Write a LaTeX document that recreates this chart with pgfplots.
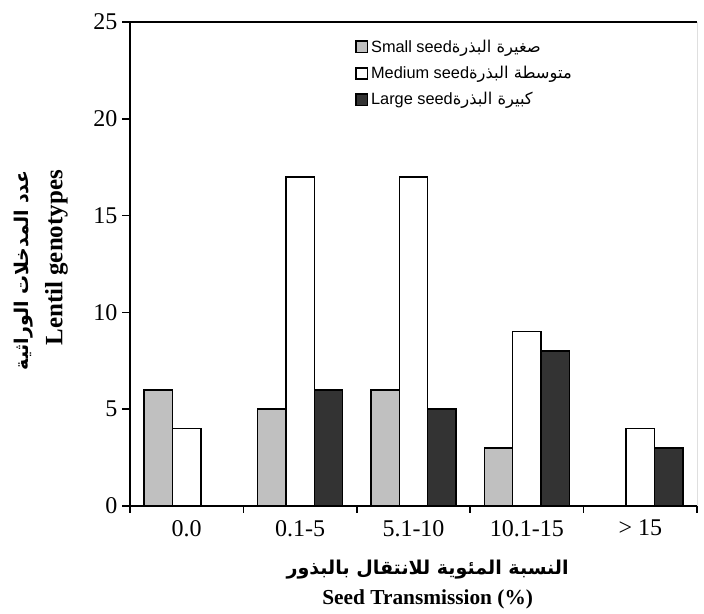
\documentclass[border=0pt]{standalone}
\usepackage{pgfplots}
\pgfplotsset{compat=1.18}
\usepackage{fontspec}
\setmainfont{Liberation Serif}
\newfontfamily\legfont{Liberation Sans}
\newfontfamily\arabicfont[Script=Arabic]{DejaVu Sans}
\TeXXeTstate=1
\definecolor{smallc}{HTML}{C0C0C0}
\definecolor{largec}{HTML}{333333}
\pgfplotstableread{
x small medium large
0 6 4 0
1 5 17 6
2 6 17 5
3 3 9 8
4 0 4 3
}\data
\pgfplotsset{boxlegend/.style={legend image code/.code={\draw[##1, line width=1.3pt] (0pt,-4.25pt) rectangle (8.5pt,4.25pt);}}}
\begin{document}
\begin{tikzpicture}[x=1pt,y=1pt]
\useasboundingbox (0,0) rectangle (528,460.5);
\begin{axis}[
  at={(97.5pt,81pt)}, anchor=south west,
  scale only axis, width=425.25pt, height=363pt,
  xmin=-0.5, xmax=4.5, ymin=0, ymax=25,
  ytick={0,5,10,15,20,25},
  xtick={0,1,2,3,4},
  xticklabels={0.0, 0.1-5, 5.1-10, 10.1-15, {> 15}},
  minor xtick={-0.5,0.5,1.5,2.5,3.5,4.5},
  tick align=outside, tick pos=left,
  major tick length=6pt, minor tick length=5pt,
  every tick/.style={black, line width=1.1pt},
  every minor tick/.style={black, line width=1.1pt},
  major x tick style={draw=none},
  /pgf/number format/assume math mode=true,
  tick label style={font=\fontsize{18}{20}\selectfont},
  xticklabel style={yshift=-1pt},
  axis x line*=bottom, axis y line*=left,
  axis line style={line width=1.3pt},
  ybar, bar width=0.25,
  xlabel={{\arabicfont\bfseries\fontsize{14.3}{17}\selectfont\beginR النسبة المئوية للانتقال بالبذور\endR}\\[7pt]{\bfseries\fontsize{16}{18}\selectfont Seed Transmission (\%)}},
  xlabel style={align=center, at={(axis description cs:0.525,-0.163)}, anchor=center},
  ylabel={{\arabicfont\bfseries\fontsize{14.2}{16}\selectfont\beginR عدد المدخلات الوراثية\endR}\\[8pt]{\bfseries\fontsize{18.7}{20}\selectfont Lentil genotypes}},
  ylabel style={align=right, at={(axis description cs:-0.157,0.487)}, anchor=center},
  legend style={at={(axis description cs:0.39,0.975)}, anchor=north west, draw=none, fill=none,
    font=\legfont\fontsize{12.25}{14}\selectfont, row sep=5pt, cells={anchor=west, xshift=2.5pt}},
]
\addplot[boxlegend, fill=smallc, draw=black, line width=1.1pt, bar shift=-0.25] table[x=x,y=small]{\data};
\addplot[boxlegend, fill=white, draw=black, line width=1.1pt, bar shift=0] table[x=x,y=medium]{\data};
\addplot[boxlegend, fill=largec, draw=black, line width=1.1pt, bar shift=0.25] table[x=x,y=large]{\data};
\legend{Small seed{\arabicfont\beginR صغيرة البذرة\endR}, Medium seed{\arabicfont\beginR متوسطة البذرة\endR}, Large seed{\arabicfont\beginR كبيرة البذرة\endR}}
\draw[line width=1.3pt] (rel axis cs:0,1) -- (rel axis cs:1,1);
\draw[line width=0.6pt] (rel axis cs:1,1) -- (rel axis cs:1,0);
\end{axis}
\end{tikzpicture}
\end{document}
